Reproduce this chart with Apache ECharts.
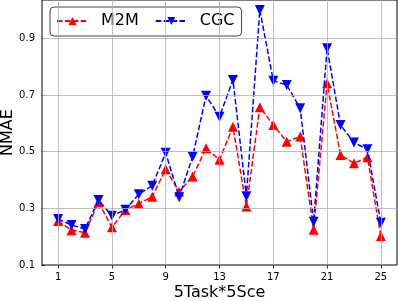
<!DOCTYPE html>
<html><head><meta charset="utf-8">
<script src="https://cdn.jsdelivr.net/npm/echarts@6/dist/echarts.min.js"></script>
<style>html,body{margin:0;padding:0;background:#fff}#c{width:398px;height:301px}</style>
</head><body><div id="c"></div>
<script>
const tasks = [1,2,3,4,5,6,7,8,9,10,11,12,13,14,15,16,17,18,19,20,21,22,23,24,25];
const m2m = [0.255,0.223,0.214,0.321,0.233,0.294,0.316,0.341,0.438,0.359,0.412,0.512,0.471,0.588,0.306,0.657,0.594,0.535,0.553,0.224,0.741,0.488,0.459,0.480,0.202];
const cgc = [0.262,0.241,0.227,0.329,0.274,0.295,0.350,0.380,0.496,0.339,0.482,0.697,0.623,0.753,0.343,1.000,0.750,0.735,0.653,0.253,0.865,0.594,0.532,0.508,0.249];
const xTicks = [1,5,9,13,17,21,25];
const yTicks = [0.1,0.3,0.5,0.7,0.9];
const font = 'DejaVu Sans';
const chart = echarts.init(document.getElementById('c'), null, {renderer:'canvas'});
const dash = [5.5,2.4];
const gridLines = xTicks.map(v=>({xAxis:v})).concat(yTicks.slice(1).map(v=>({yAxis:v})));
chart.setOption({
  animation:false,
  textStyle:{fontFamily:font},
  grid:{left:42,right:1,top:0,bottom:36,show:true,borderColor:'#000',borderWidth:1,backgroundColor:'transparent',
        containLabel:false,outerBoundsMode:'none'},
  legend:{
    left:50, top:7, orient:'horizontal',
    itemWidth:31, itemHeight:10, itemGap:16,
    padding:[6,7,7,6],
    borderColor:'#444', borderWidth:1, borderRadius:4,
    backgroundColor:'#fff',
    textStyle:{fontFamily:font,fontSize:16,color:'#000',padding:[0,0,0,8]},
    data:['M2M','CGC']
  },
  xAxis:{
    type:'value', min:-0.2, max:26.2,
    name:'5Task*5Sce', nameLocation:'middle', nameGap:20, nameMoveOverlap:false,
    nameTextStyle:{fontFamily:font,fontSize:16,color:'#000',verticalAlign:'top'},
    axisLine:{show:false},
    axisTick:{show:true,inside:false,length:3.5,customValues:xTicks,lineStyle:{color:'#000',width:0.8}},
    axisLabel:{customValues:xTicks,fontFamily:font,fontSize:10,color:'#000',margin:7},
    splitLine:{show:false}
  },
  yAxis:{
    type:'value', min:0.1, max:1.035, interval:0.2,
    name:'NMAE', nameLocation:'middle', nameGap:26, nameMoveOverlap:false,
    nameTextStyle:{fontFamily:font,fontSize:16,color:'#000'},
    axisLine:{show:false},
    axisTick:{show:true,length:3.5,customValues:yTicks,lineStyle:{color:'#000',width:0.8}},
    axisLabel:{customValues:yTicks,fontFamily:font,fontSize:10,color:'#000',margin:7,formatter:v=>v.toFixed(1)},
    splitLine:{show:false}
  },
  series:[
    {name:'grid',type:'line',data:[],silent:true,z:1,
     markLine:{silent:true,symbol:['none','none'],label:{show:false},animation:false,
       lineStyle:{color:'#b0b0b0',width:0.8,type:'solid'},data:gridLines}},
    {name:'M2M',type:'line',data:tasks.map((t,i)=>[t,m2m[i]]),
     symbol:'triangle',symbolSize:10,
     lineStyle:{color:'#ff0000',width:1.5,type:dash},
     itemStyle:{color:'#ff0000'},z:3},
    {name:'CGC',type:'line',data:tasks.map((t,i)=>[t,cgc[i]]),
     symbol:'triangle',symbolRotate:180,symbolSize:10,
     lineStyle:{color:'#0000ff',width:1.5,type:dash},
     itemStyle:{color:'#0000ff'},z:4}
  ]
});
</script></body></html>
